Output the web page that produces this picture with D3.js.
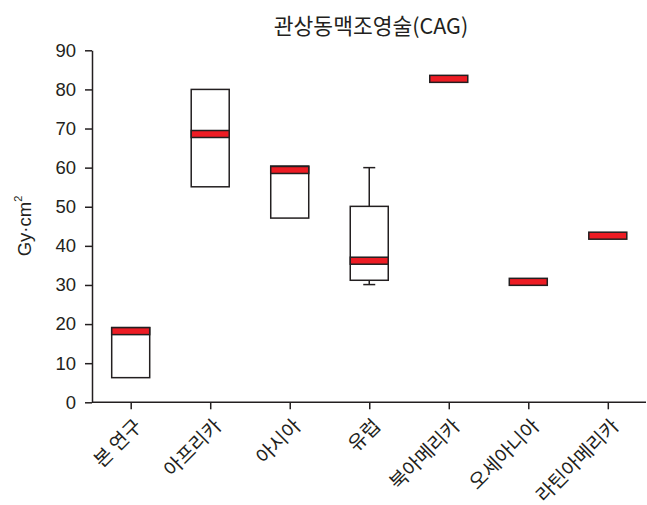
<!DOCTYPE html>
<html><head><meta charset="utf-8">
<script src="https://cdn.jsdelivr.net/npm/d3@7"></script>
<style>
html,body{margin:0;padding:0;background:#fff;}
svg{display:block;}
</style></head>
<body>
<svg id="chart" width="647" height="505"></svg>
<script>
const categories = ['본 연구','아프리카','아시아','유럽','북아메리카','오세아니아','라틴아메리카'];
const q1Values = [6.3, 55.1, 47.1, 31.2, null, null, null];
const medianValues = [18.2, 68.6, 59.4, 36.2, 82.7, 30.8, 42.6];
const q3Values = [19.1, 80.0, 60.4, 50.1, null, null, null];
const whiskerLow = [null, null, null, 30.1, null, null, null];
const whiskerHigh = [null, null, null, 60.0, null, null, null];
const yTicks = [0,10,20,30,40,50,60,70,80,90];
const titleText = '관상동맥조영술(CAG)';

const svg = d3.select('#chart');
const ink = '#231f20';
const red = '#ed1c24';
const boxW = 38;
const bandH = 7;

const y = d3.scaleLinear().domain([0,90]).range([402.3, 50.3]);
const x = d3.scalePoint().domain(categories).range([130.7, 607.8]);
const axisX0 = 92, axisX1 = 646;

// title
svg.append('text').attr('x', 371).attr('y', 34).attr('text-anchor','middle')
  .attr('font-family','"Noto Sans CJK KR", sans-serif').attr('font-size', 21.5)
  .attr('fill', ink).text(titleText);

// y axis
const yAxis = d3.axisLeft(y).tickValues(yTicks).tickSize(7).tickPadding(9).tickSizeOuter(0);
const gy = svg.append('g').attr('transform', `translate(${axisX0},0)`).call(yAxis);
gy.select('.domain').attr('stroke', ink).attr('stroke-width', 1.5);
gy.selectAll('.tick line').attr('stroke', ink).attr('stroke-width', 1.5);
gy.selectAll('.tick text').attr('fill', ink).attr('font-size', 18.5)
  .attr('font-family','"Liberation Sans", Arial, sans-serif');

// x axis
const xAxis = d3.axisBottom(x).tickSize(7).tickSizeOuter(0).tickFormat('');
const gx = svg.append('g').attr('transform', `translate(0,${y(0)})`).call(xAxis);
gx.select('.domain').remove();
gx.append('line').attr('x1', axisX0).attr('x2', axisX1).attr('y1', 0).attr('y2', 0)
  .attr('stroke', ink).attr('stroke-width', 1.5);
gx.selectAll('.tick line').attr('stroke', ink).attr('stroke-width', 1.5);
gx.selectAll('.tick').append('text')
  .attr('text-anchor','end')
  .attr('transform','translate(12,25) rotate(-45)')
  .attr('font-family','"Noto Sans CJK KR", sans-serif')
  .attr('font-size', 19.5).attr('fill', ink)
  .text(d => d);

// y label
const yl = svg.append('text').attr('transform','translate(31,226) rotate(-90)')
  .attr('text-anchor','middle').attr('font-family','"Liberation Sans", Arial, sans-serif')
  .attr('font-size', 18.5).attr('fill', ink);
yl.append('tspan').text('Gy·cm');
yl.append('tspan').attr('font-size', 11).attr('dy', -9).text('2');

// boxes
const data = categories.map((c,i) => ({c, q1:q1Values[i], med:medianValues[i], q3:q3Values[i], lo:whiskerLow[i], hi:whiskerHigh[i]}));
const g = svg.append('g');
data.forEach(d => {
  const cx = x(d.c);
  if (d.hi != null && d.q3 != null) {
    g.append('line').attr('x1',cx).attr('x2',cx).attr('y1',y(d.hi)).attr('y2',y(d.q3)).attr('stroke',ink).attr('stroke-width',1.5);
    g.append('line').attr('x1',cx-6).attr('x2',cx+6).attr('y1',y(d.hi)).attr('y2',y(d.hi)).attr('stroke',ink).attr('stroke-width',1.5);
  }
  if (d.lo != null && d.q1 != null) {
    g.append('line').attr('x1',cx).attr('x2',cx).attr('y1',y(d.q1)).attr('y2',y(d.lo)).attr('stroke',ink).attr('stroke-width',1.5);
    g.append('line').attr('x1',cx-6).attr('x2',cx+6).attr('y1',y(d.lo)).attr('y2',y(d.lo)).attr('stroke',ink).attr('stroke-width',1.5);
  }
  if (d.q1 != null && d.q3 != null) {
    g.append('rect').attr('x',cx-boxW/2).attr('width',boxW)
      .attr('y',y(d.q3)).attr('height',y(d.q1)-y(d.q3))
      .attr('fill','#fff').attr('stroke',ink).attr('stroke-width',1.5);
  }
  g.append('rect').attr('x',cx-boxW/2).attr('width',boxW)
    .attr('y',y(d.med)-bandH/2).attr('height',bandH)
    .attr('fill',red).attr('stroke',ink).attr('stroke-width',1.5);
});
</script>
</body></html>
